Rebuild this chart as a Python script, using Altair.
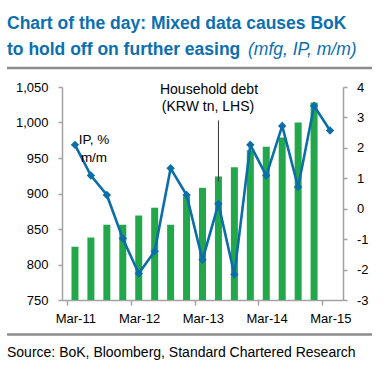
import altair as alt
import pandas as pd

quarters = ["Mar-11", "Jun-11", "Sep-11", "Dec-11", "Mar-12", "Jun-12", "Sep-12", "Dec-12",
            "Mar-13", "Jun-13", "Sep-13", "Dec-13", "Mar-14", "Jun-14", "Sep-14", "Dec-14", "Mar-15"]
household_debt = [825, 838, 856, 856, 869, 880, 856, 896, 908, 924, 937, 961, 966, 979, 1000, 1028, None]
ip_mm = [2.10, 1.09, 0.45, -0.98, -2.13, -1.40, 1.33, 0.45, -1.68, 0.16, -2.16, 2.10, 1.09, 2.72, 0.71, 3.38, 2.57]
label_every = 4

FONT = "Liberation Sans"
BLUE = "#0b6ea8"
TITLE_BLUE = "#0b6fb0"
GREEN = "#22a84a"
AXIS_GREY = "#a3a3a3"

df = pd.DataFrame({"i": list(range(len(quarters))), "quarter": quarters,
                   "debt": household_debt, "ip": ip_mm})

label_map = "{" + ",".join(f"'{i}':'{q}'" for i, q in enumerate(quarters) if i % label_every == 0) + "}"
tick_vals = [i for i in range(len(quarters)) if i % label_every == 0]

base = alt.Chart(df).transform_calculate(pos="datum.i + 0.5")

x_axis = alt.Axis(values=tick_vals, labelExpr=label_map + "[datum.value + '']",
                  labelOffset=8.3, tickSize=5, labelPadding=7, grid=False, title=None)
x_scale = alt.Scale(domain=[0, len(quarters)], nice=False, zero=False)
x_enc = alt.X("pos:Q", scale=x_scale, axis=x_axis)

left_scale = alt.Scale(domain=[750, 1050], nice=False, zero=False)
left_axis = alt.Axis(values=list(range(750, 1051, 50)), labelExpr="format(datum.value, ',')",
                     title=None, tickSize=4, labelPadding=10, grid=False)

bars = base.mark_bar(color=GREEN, size=7).encode(
    x=x_enc,
    y=alt.Y("debt:Q", scale=left_scale, axis=left_axis),
    y2=alt.datum(750),
)

leader_df = pd.DataFrame({"pos": [9.5], "debt": [1003], "bottom": [917]})
leader = alt.Chart(leader_df).mark_rule(color="#333333", strokeWidth=1).encode(
    x=alt.X("pos:Q", scale=x_scale, axis=x_axis),
    y=alt.Y("debt:Q", scale=left_scale, axis=left_axis),
    y2="bottom:Q")

left = alt.layer(bars, leader)

line = base.mark_line(color=BLUE, strokeWidth=2.6,
                      point=alt.OverlayMarkDef(shape="diamond", size=70, filled=True, color=BLUE)).encode(
    x=x_enc,
    y=alt.Y("ip:Q", scale=alt.Scale(domain=[-3, 4], nice=False, zero=False),
            axis=alt.Axis(orient="right", values=list(range(-3, 5)), labelExpr="datum.value + ''",
                          title=None, tickSize=4, labelPadding=9.5, grid=False)),
)

one = alt.Data(values=[{}])

def txt(text, x, y, size, color="#000000", weight="normal", style="normal", align="left"):
    return alt.Chart(one).mark_text(text=text, font=FONT, fontSize=size, color=color,
                                    fontWeight=weight, fontStyle=style, align=align,
                                    baseline="alphabetic").encode(x=alt.value(x), y=alt.value(y))

title1 = txt("Chart of the day: Mixed data causes BoK", -55, -58.5, 17.5, TITLE_BLUE, "bold")
title2 = txt("to hold off on further easing", -55, -32.3, 17.5, TITLE_BLUE, "bold")
title3 = txt("(mfg, IP, m/m)", 186, -32.3, 17.5, TITLE_BLUE, "normal", "italic")
ann_ip1 = txt("IP, %", 32, 56.5, 13.5, align="center")
ann_ip2 = txt("m/m", 32, 74.5, 13.5, align="center")
ann_hd1 = txt("Household debt", 147, 6.5, 14, align="center")
ann_hd2 = txt("(KRW tn, LHS)", 146, 23.5, 14, align="center")
source = txt("Source: BoK, Bloomberg, Standard Chartered Research", -55, 269.5, 14)

rule_top = alt.Chart(one).mark_rule(color="#8c8c8c", strokeWidth=2.5).encode(
    x=alt.value(-55), x2=alt.value(310), y=alt.value(-19))
rule_bottom = alt.Chart(one).mark_rule(color="#8c8c8c", strokeWidth=2.5).encode(
    x=alt.value(-55), x2=alt.value(310), y=alt.value(247.5))

chart = alt.layer(
    alt.layer(left, line).resolve_scale(y="independent"),
    title1, title2, title3, ann_ip1, ann_ip2, ann_hd1, ann_hd2, source, rule_top, rule_bottom,
).properties(
    width=281, height=213,
    autosize=alt.AutoSizeParams(type="none"),
    padding={"left": 62, "top": 87, "right": 44, "bottom": 76},
    background="white",
).configure_view(stroke=None).configure_axis(
    labelFont=FONT, labelFontSize=13, labelColor="#000000",
    domainColor=AXIS_GREY, tickColor=AXIS_GREY, domainWidth=1.5, tickWidth=1.5,
)

chart.save("out.html", embed_options={"renderer": "svg", "actions": False})
